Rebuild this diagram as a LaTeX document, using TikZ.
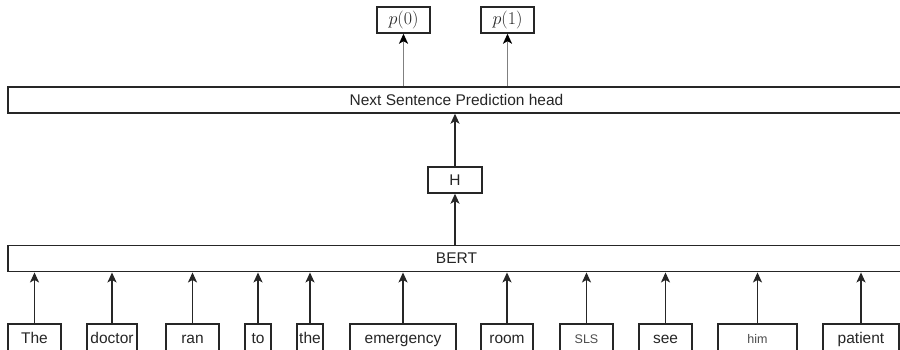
\documentclass[tikz,border=0pt]{standalone}
\usepackage[no-math]{fontspec}
\usepackage{fix-cm}
\newfontfamily\arial{Liberation Sans}
\usetikzlibrary{arrows.meta}
\begin{document}
\begin{tikzpicture}[x=1pt,y=-1pt,
  box/.style={draw=black!85, line width=1.4pt, inner sep=0pt, anchor=center,
    font=\arial\fontsize{15.5}{18}\selectfont, text=black!85},
  tok/.style={box, text height=11.5pt, text depth=3.5pt},
  small/.style={font=\arial\fontsize{12.5}{15}\selectfont, text=black!70},
  arr/.style={line width=1.4pt, draw=black!85, -{Stealth[length=10pt,width=9pt,inset=2.5pt]}},
  garr/.style={line width=1.8pt, draw=black!50, -{Stealth[length=10pt,width=9pt,inset=2.5pt,fill=black,color=black]}}]
\useasboundingbox (0,0) rectangle (900,350);
\fill[white] (0,0) rectangle (900,350);
% big boxes
\node[box, minimum width=897pt, minimum height=26pt] (nsp) at (456.5,100) {Next Sentence Prediction head};
\node[box, minimum width=897pt, minimum height=26.5pt] (bert) at (456.5,258.5) {BERT};
\node[box, minimum width=54pt, minimum height=26pt] (h) at (455,180) {H};
\node[box, minimum width=53pt, minimum height=26pt, font=\fontsize{18}{20}\selectfont] (p0) at (403.5,20) {$p(0)$};
\node[box, minimum width=53pt, minimum height=26pt, font=\fontsize{18}{20}\selectfont] (p1) at (507.5,20) {$p(1)$};
% tokens
\foreach \n/\x/\w/\t/\s in {t1/34.5/53/The/, t2/112/50/doctor/, t3/192.5/53/ran/, t4/258/26/to/, t5/310/26/the/, t6/403/106/emergency/, t7/507/52/room/, t8/586.5/53/SLS/small, t9/665.5/53/see/, t10/757.5/79/him/small, t11/861/76/patient/}{
  \node[tok, minimum width=\w pt, minimum height=30pt, \s] (\n) at (\x,339) {\t};
  \draw[arr] (\n.north) -- (\n.north |- bert.south);
}
% arrows
\draw[arr] (bert.north -| h.south) -- (h.south);
\draw[arr] (h.north) -- (h.north |- nsp.south);
\draw[garr] (nsp.north -| p0.south) -- (p0.south);
\draw[garr] (nsp.north -| p1.south) -- (p1.south);
\end{tikzpicture}
\end{document}
